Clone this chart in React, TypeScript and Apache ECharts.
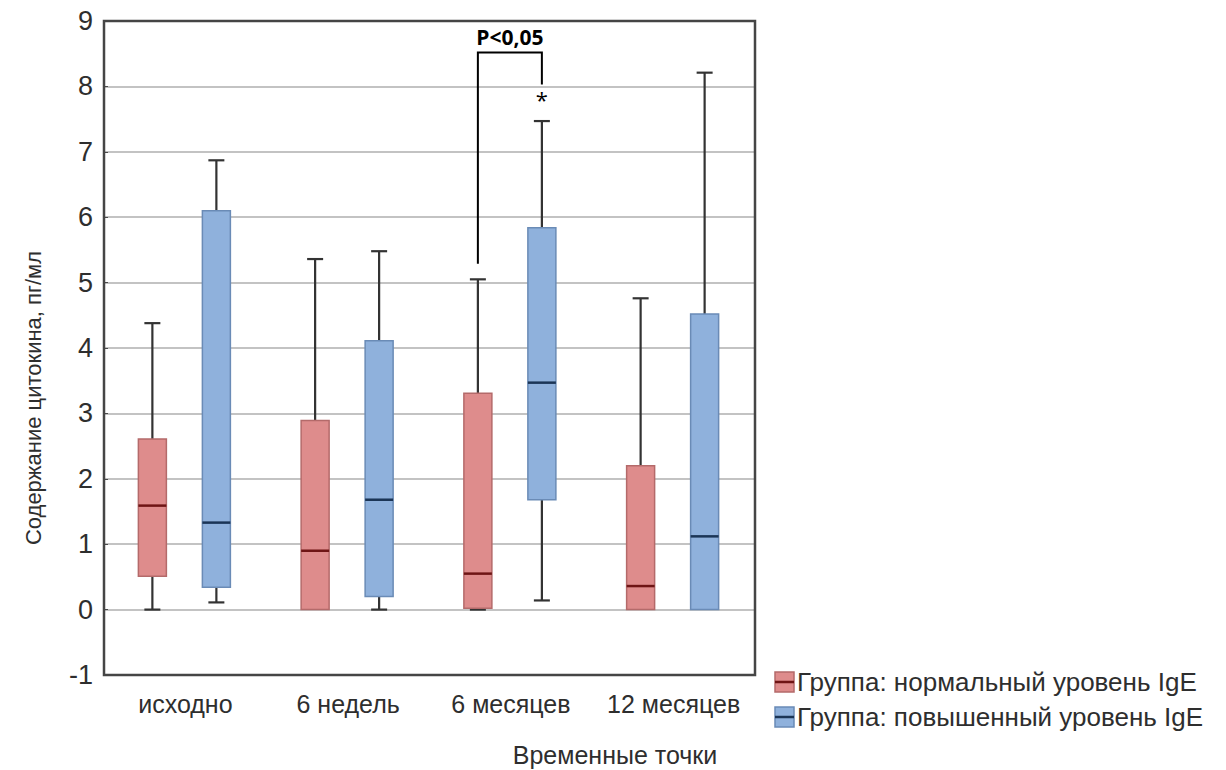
import React, { useEffect, useRef } from "react";
import * as echarts from "echarts";

// Time points on the x axis
const timePoints = ["исходно", "6 недель", "6 месяцев", "12 месяцев"];

// Each row: [min, Q1, median, Q3, max], cytokine content, pg/ml
const normalIgE = [
  [0, 0.51, 1.59, 2.61, 4.38],
  [0, 0, 0.9, 2.89, 5.36],
  [0, 0.02, 0.55, 3.31, 5.05],
  [0, 0, 0.36, 2.2, 4.76],
];
const elevatedIgE = [
  [0.11, 0.34, 1.33, 6.1, 6.87],
  [0, 0.2, 1.68, 4.11, 5.48],
  [0.14, 1.68, 3.47, 5.84, 7.47],
  [0, 0, 1.12, 4.52, 8.21],
];

const seriesNames = ["Группа: нормальный уровень IgE", "Группа: повышенный уровень IgE"];

// Significance bracket: [category, left leg bottom, right leg bottom, top]
const bracket = [[2, 5.29, 8.03, 8.52]];
const bracketLabel = "P<0,05";
const starValue = 7.8;
const labelValue = 8.76;

const yTicks = { min: -1, max: 9, interval: 1 };

const FONT = '"Liberation Sans", Arial, Helvetica, sans-serif';
const TEXT = "#2e2e2e";
const BOX_W = 28;
const CAP_W = 16;

const GRID = { left: 104, top: 21, right: 471, bottom: 95 };
const CHART_W = 1226;
const CHART_H = 770;

const groupStyles = [
  { offset: -33, fill: "#de8c8c", stroke: "#b46a6a", median: "#6e1515" },
  { offset: 31, fill: "#8fb1dc", stroke: "#6a8bb6", median: "#1b3556" },
];

function boxRenderer(offset: number, fill: string, stroke: string, median: string) {
  return (params: any, api: any) => {
    const c = api.value(0);
    const [vMin, vQ1, vMed, vQ3, vMax] = [1, 2, 3, 4, 5].map((i) => api.value(i));
    const cx = api.coord([c, 0])[0] + offset;
    const y = (v: number) => api.coord([c, v])[1];
    const h = BOX_W / 2;
    const ch = CAP_W / 2;
    const wStyle = { stroke: "#333", lineWidth: 2.2 };
    const children: any[] = [];
    if (vMax > vQ3) {
      children.push(
        { type: "line", shape: { x1: cx, y1: y(vQ3), x2: cx, y2: y(vMax) }, style: wStyle },
        { type: "line", shape: { x1: cx - ch, y1: y(vMax), x2: cx + ch, y2: y(vMax) }, style: wStyle }
      );
    }
    if (vMin < vQ1) {
      children.push(
        { type: "line", shape: { x1: cx, y1: y(vQ1), x2: cx, y2: y(vMin) }, style: wStyle },
        { type: "line", shape: { x1: cx - ch, y1: y(vMin), x2: cx + ch, y2: y(vMin) }, style: wStyle }
      );
    }
    children.push(
      {
        type: "rect",
        shape: { x: cx - h, y: y(vQ3), width: BOX_W, height: y(vQ1) - y(vQ3) },
        style: { fill, stroke, lineWidth: 1.5 },
      },
      {
        type: "line",
        shape: { x1: cx - h, y1: y(vMed), x2: cx + h, y2: y(vMed) },
        style: { stroke: median, lineWidth: 2.5 },
      }
    );
    return { type: "group", children };
  };
}

function bracketRenderer(params: any, api: any) {
  const c = api.value(0);
  const xl = api.coord([c, 0])[0] + groupStyles[0].offset;
  const xr = api.coord([c, 0])[0] + groupStyles[1].offset;
  const y = (v: number) => api.coord([c, v])[1];
  const yTop = y(api.value(3));
  return {
    type: "group",
    children: [
      {
        type: "polyline",
        shape: {
          points: [
            [xl, y(api.value(1))],
            [xl, yTop],
            [xr, yTop],
            [xr, y(api.value(2))],
          ],
        },
        style: { stroke: "#000", lineWidth: 2, fill: null },
      },
      {
        type: "text",
        x: (xl + xr) / 2,
        y: y(labelValue),
        style: {
          text: bracketLabel,
          fill: "#000",
          font: 'bold 21px "Open Sans", "Noto Sans", Arial, sans-serif',
          align: "center",
          verticalAlign: "middle",
        },
      },
      {
        type: "text",
        x: xr,
        y: y(starValue),
        style: {
          text: "*",
          fill: "#000",
          font: '22px "Open Sans", "Noto Sans", Arial, sans-serif',
          align: "center",
          verticalAlign: "middle",
        },
      },
    ],
  };
}

function legendItem(top: number, idx: number) {
  const s = groupStyles[idx];
  return [
    {
      type: "rect",
      shape: { x: 775, y: top, width: 19, height: 20 },
      style: { fill: s.fill, stroke: s.stroke, lineWidth: 1.5 },
    },
    {
      type: "line",
      shape: { x1: 775, y1: top + 10, x2: 794, y2: top + 10 },
      style: { stroke: s.median, lineWidth: 2.5 },
    },
    {
      type: "text",
      x: 797,
      y: top + 10,
      style: {
        text: seriesNames[idx],
        fill: TEXT,
        font: `26px ${FONT}`,
        verticalAlign: "middle",
      },
    },
  ];
}

export default function App() {
  const ref = useRef<HTMLDivElement>(null);

  useEffect(() => {
    if (!ref.current) return;
    const chart = echarts.init(ref.current, undefined, { renderer: "svg" });
    const toRows = (rows: number[][]) => rows.map((r, i) => [i, ...r]);

    chart.setOption({
      animation: false,
      backgroundColor: "#ffffff",
      grid: { ...GRID },
      xAxis: {
        type: "category",
        data: timePoints,
        boundaryGap: true,
        axisLine: { show: false },
        axisTick: { show: false },
        splitLine: { show: false },
        axisLabel: {
          interval: 0,
          color: TEXT,
          fontFamily: FONT,
          fontSize: 25,
          margin: 16,
        },
      },
      yAxis: {
        type: "value",
        min: yTicks.min,
        max: yTicks.max,
        interval: yTicks.interval,
        axisLine: { show: false },
        axisTick: { show: true, inside: true, length: 4, lineStyle: { color: "#4a4a4a" } },
        splitLine: { show: true, lineStyle: { color: "#c3c3c3", width: 2 } },
        axisLabel: {
          color: TEXT,
          fontFamily: FONT,
          fontSize: 27,
          margin: 11,
        },
      },
      series: [
        {
          type: "custom",
          name: seriesNames[0],
          renderItem: boxRenderer(groupStyles[0].offset, groupStyles[0].fill, groupStyles[0].stroke, groupStyles[0].median),
          encode: { x: 0, y: [1, 2, 3, 4, 5] },
          data: toRows(normalIgE),
          z: 3,
        },
        {
          type: "custom",
          name: seriesNames[1],
          renderItem: boxRenderer(groupStyles[1].offset, groupStyles[1].fill, groupStyles[1].stroke, groupStyles[1].median),
          encode: { x: 0, y: [1, 2, 3, 4, 5] },
          data: toRows(elevatedIgE),
          z: 3,
        },
        {
          type: "custom",
          name: "significance",
          renderItem: bracketRenderer,
          encode: { x: 0, y: [1, 2, 3] },
          data: bracket,
          clip: false,
          z: 4,
        },
      ],
      graphic: [
        // plot frame
        {
          type: "rect",
          z: 10,
          shape: {
            x: GRID.left,
            y: GRID.top,
            width: CHART_W - GRID.left - GRID.right,
            height: CHART_H - GRID.top - GRID.bottom,
          },
          style: { fill: null, stroke: "#454545", lineWidth: 2.5 },
        },
        {
          type: "text",
          x: 33,
          y: 398,
          rotation: Math.PI / 2,
          style: {
            text: "Содержание цитокина, пг/мл",
            fill: TEXT,
            font: `22px ${FONT}`,
            align: "center",
            verticalAlign: "middle",
          },
        },
        {
          type: "text",
          x: 615,
          y: 755,
          style: {
            text: "Временные точки",
            fill: TEXT,
            font: `25px ${FONT}`,
            align: "center",
            verticalAlign: "middle",
          },
        },
        ...legendItem(672, 0),
        ...legendItem(707, 1),
      ],
    });

    return () => chart.dispose();
  }, []);

  return (
    <div
      ref={ref}
      style={{ position: "fixed", left: 0, top: 0, width: CHART_W, height: CHART_H, background: "#fff" }}
    />
  );
}
